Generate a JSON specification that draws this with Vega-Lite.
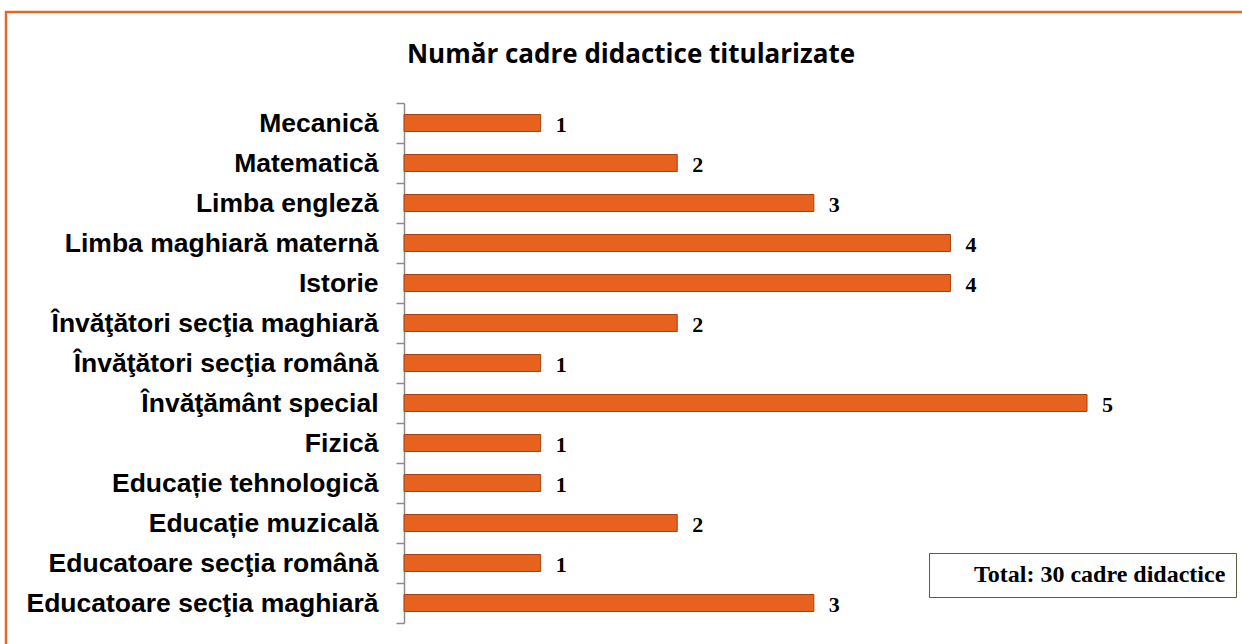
{
  "$schema": "https://vega.github.io/schema/vega-lite/v6.json",
  "autosize": "none",
  "width": 1250,
  "height": 650,
  "padding": {"left": 6, "top": 12, "right": 0, "bottom": 0},
  "background": "white",
  "config": {
    "view": {"stroke": "#e2672f", "strokeWidth": 2.5},
    "title": {"font": "Open Sans", "fontSize": 26, "fontWeight": "bold", "color": "#000000", "anchor": "middle", "frame": "group", "baseline": "alphabetic", "offset": -69}
  },
  "title": "Număr cadre didactice titularizate",
  "data": {
    "values": [
      {"subject": "Mecanică", "n": 1},
      {"subject": "Matematică", "n": 2},
      {"subject": "Limba engleză", "n": 3},
      {"subject": "Limba maghiară maternă", "n": 4},
      {"subject": "Istorie", "n": 4},
      {"subject": "Învăţători secţia maghiară", "n": 2},
      {"subject": "Învăţători secţia română", "n": 1},
      {"subject": "Învăţământ special", "n": 5},
      {"subject": "Fizică", "n": 1},
      {"subject": "Educație tehnologică", "n": 1},
      {"subject": "Educație muzicală", "n": 2},
      {"subject": "Educatoare secţia română", "n": 1},
      {"subject": "Educatoare secţia maghiară", "n": 3}
    ]
  },
  "layer": [
    {
      "mark": {"type": "bar", "height": {"band": 0.425}, "stroke": "#a8400f", "strokeWidth": 1},
      "encoding": {
        "x": {
          "field": "n", "type": "quantitative",
          "scale": {"domain": [-2.914, 6.237], "zero": false, "nice": false},
          "axis": null
        },
        "y": {
          "field": "subject", "type": "nominal",
          "sort": null,
          "scale": {
            "domain": ["Mecanică", "Matematică", "Limba engleză", "Limba maghiară maternă", "Istorie", "Învăţători secţia maghiară", "Învăţători secţia română", "Învăţământ special", "Fizică", "Educație tehnologică", "Educație muzicală", "Educatoare secţia română", "Educatoare secţia maghiară"],
            "range": [91, 611],
            "paddingInner": 0, "paddingOuter": 0
          },
          "axis": {
            "title": null,
            "offset": -398,
            "domain": true,
            "domainColor": "#8c8c8c",
            "domainWidth": 1.5,
            "tickBand": "extent",
            "tickSize": 8,
            "tickColor": "#8c8c8c",
            "tickWidth": 1.5,
            "labelPadding": 18,
            "labelColor": "#000000",
            "labelFont": "Liberation Sans",
            "labelFontSize": 26.5,
            "labelFontWeight": "bold",
            "labelLimit": 500,
            "grid": false
          }
        },
        "color": {
          "datum": "Total: 30 cadre didactice",
          "type": "nominal",
          "scale": {"range": ["#e8621f"]},
          "legend": {
            "title": null,
            "orient": "none",
            "legendX": 923,
            "legendY": 541,
            "padding": 10,
            "fillColor": "white",
            "strokeColor": "#5e5d42",
            "symbolOpacity": 0,
            "symbolSize": 0,
            "symbolStrokeWidth": 0,
            "labelOffset": 11,
            "labelFont": "Liberation Serif",
            "labelFontSize": 24,
            "labelFontWeight": "bold",
            "labelColor": "#000000",
            "labelLimit": 400
          }
        }
      }
    },
    {
      "mark": {"type": "text", "align": "left", "baseline": "middle", "dx": 15, "dy": 2, "font": "Liberation Serif", "fontSize": 22, "fontWeight": "bold", "color": "#000000"},
      "encoding": {
        "x": {"field": "n", "type": "quantitative"},
        "y": {"field": "subject", "type": "nominal"},
        "text": {"field": "n", "type": "quantitative"}
      }
    }
  ]
}
